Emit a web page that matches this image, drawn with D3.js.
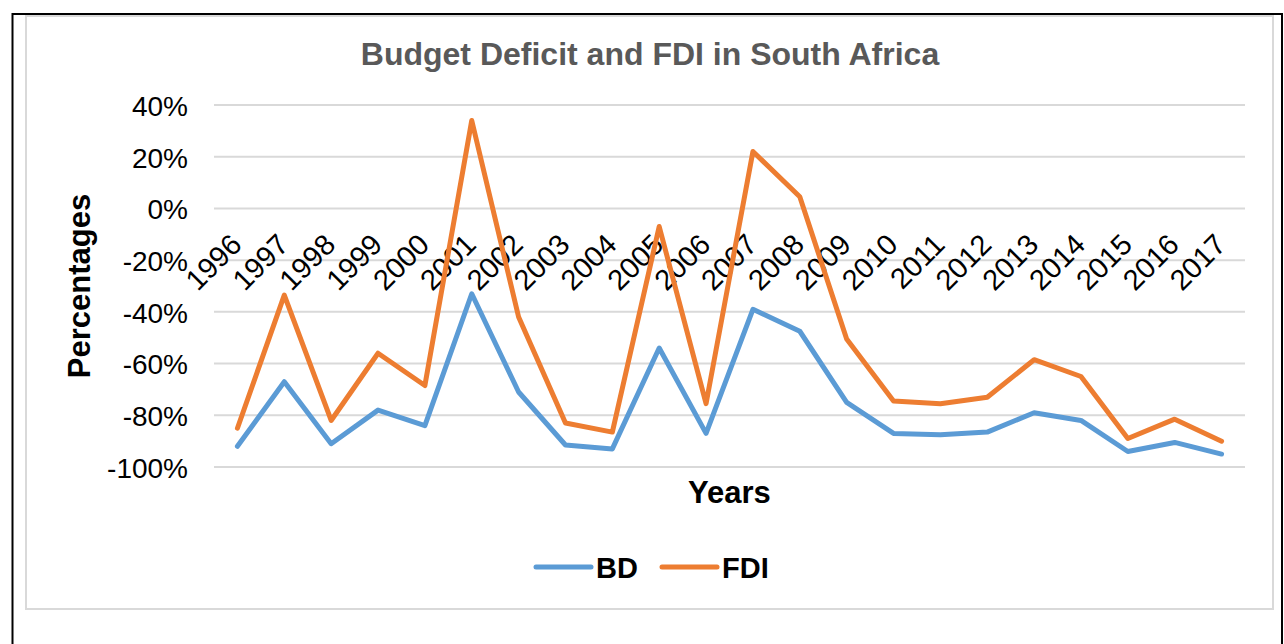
<!DOCTYPE html>
<html>
<head>
<meta charset="utf-8">
<script src="https://cdn.jsdelivr.net/npm/d3@7"></script>
<style>
  html, body { margin: 0; padding: 0; background: #fff; }
  svg { display: block; font-family: "Liberation Sans", Arial, sans-serif; }
</style>
</head>
<body>
<svg id="chart" width="1284" height="644"></svg>
<script>
const years = ["1996","1997","1998","1999","2000","2001","2002","2003","2004","2005","2006",
               "2007","2008","2009","2010","2011","2012","2013","2014","2015","2016","2017"];
const bd  = [-0.92,-0.67,-0.91,-0.78,-0.84,-0.33,-0.71,-0.915,-0.93,-0.54,-0.87,
             -0.39,-0.475,-0.75,-0.87,-0.875,-0.865,-0.79,-0.82,-0.94,-0.905,-0.95];
const fdi = [-0.85,-0.335,-0.82,-0.56,-0.685,0.34,-0.42,-0.83,-0.865,-0.07,-0.755,
             0.22,0.045,-0.505,-0.745,-0.755,-0.73,-0.585,-0.65,-0.89,-0.815,-0.90];
const yTicks = [0.4,0.2,0,-0.2,-0.4,-0.6,-0.8,-1.0];
const yTickLabels = ["40%","20%","0%","-20%","-40%","-60%","-80%","-100%"];
const seriesNames = ["BD","FDI"];
const seriesColors = ["#5B9BD5","#ED7D31"];

const svg = d3.select("#chart");

// outer black frame
svg.append("rect").attr("x",12.5).attr("y",14).attr("width",1269.5).attr("height",700)
  .attr("fill","none").attr("stroke","#000").attr("stroke-width",2);
// inner chart area frame
svg.append("rect").attr("x",26).attr("y",16).attr("width",1247).attr("height",593)
  .attr("fill","#fff").attr("stroke","#d9d9d9").attr("stroke-width",2);

const x = d3.scaleBand().domain(years).range([214,1245]);
const y = d3.scaleLinear().domain([-1,0.4]).range([467,105]);

// gridlines
svg.append("g").selectAll("line").data(yTicks).join("line")
  .attr("x1",214).attr("x2",1245)
  .attr("y1",d=>y(d)).attr("y2",d=>y(d))
  .attr("stroke","#d9d9d9").attr("stroke-width",2);

// y axis labels
const yAxis = d3.axisLeft(y).tickValues(yTicks)
  .tickFormat((d,i)=>yTickLabels[i]).tickSize(0).tickPadding(0);
const gy = svg.append("g").attr("transform","translate(188,0)").call(yAxis);
gy.select(".domain").remove();
gy.selectAll("text").attr("font-size",28).attr("fill","#000")
  .attr("font-family","'Liberation Sans', Arial, sans-serif").attr("dy","0.37em");

// x axis labels at 0 line, rotated
const xAxis = d3.axisBottom(x).tickSize(0).tickPadding(0);
const gx = svg.append("g").attr("transform",`translate(0,${y(0)})`).call(xAxis);
gx.select(".domain").remove();
gx.selectAll("text")
  .attr("font-size",29).attr("fill","#000")
  .attr("font-family","'Liberation Sans', Arial, sans-serif")
  .attr("text-anchor","end").attr("dy",null).attr("y",0)
  .attr("transform","translate(6,38) rotate(-45)");

// lines
const line = d3.line().x((d,i)=>x(years[i]) + x.bandwidth()/2).y(d=>y(d));
[bd,fdi].forEach((s,k)=>{
  svg.append("path").datum(s).attr("d",line)
    .attr("fill","none").attr("stroke",seriesColors[k]).attr("stroke-width",5)
    .attr("stroke-linejoin","round").attr("stroke-linecap","round");
});

// title
svg.append("text").attr("x",650).attr("y",65).attr("text-anchor","middle")
  .attr("font-size",32).attr("font-weight","bold").attr("fill","#595959")
  .text("Budget Deficit and FDI in South Africa");

// axis titles
svg.append("text").attr("transform","translate(90,286) rotate(-90)").attr("text-anchor","middle")
  .attr("font-size",31).attr("font-weight","bold").attr("fill","#000").text("Percentages");
svg.append("text").attr("x",729.5).attr("y",503).attr("text-anchor","middle")
  .attr("font-size",31).attr("font-weight","bold").attr("fill","#000").text("Years");

// legend
const legendX = [536, 662];
seriesNames.forEach((n,k)=>{
  svg.append("line").attr("x1",legendX[k]).attr("x2",legendX[k]+55).attr("y1",567).attr("y2",567)
    .attr("stroke",seriesColors[k]).attr("stroke-width",5).attr("stroke-linecap","round");
  svg.append("text").attr("x",legendX[k]+60).attr("y",578)
    .attr("font-size",29).attr("font-weight","bold").attr("fill","#000").text(n);
});
</script>
</body>
</html>
